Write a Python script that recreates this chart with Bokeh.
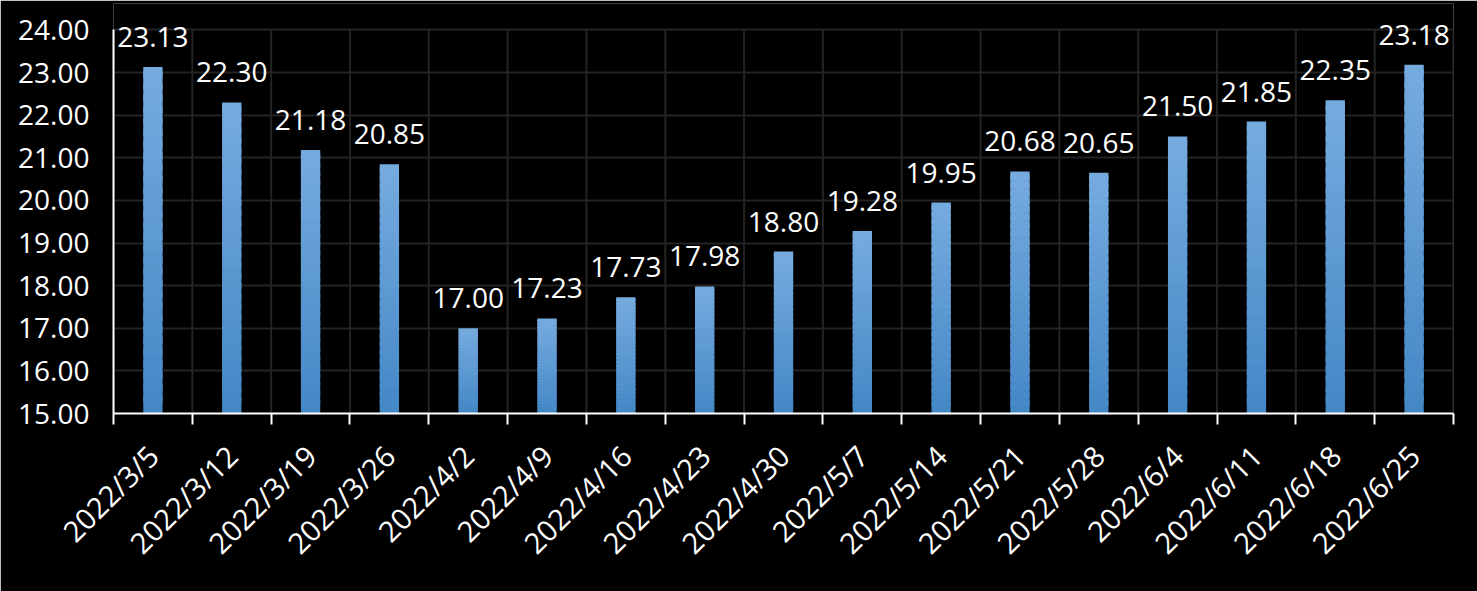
from bokeh.plotting import figure
from bokeh.models import Range1d, FixedTicker, ColumnDataSource, LabelSet, CustomJSTickFormatter
from bokeh.core.properties import value
from bokeh.embed import file_html
from bokeh.resources import INLINE
import numpy as np

dates = ["2022/3/5", "2022/3/12", "2022/3/19", "2022/3/26", "2022/4/2", "2022/4/9",
         "2022/4/16", "2022/4/23", "2022/4/30", "2022/5/7", "2022/5/14", "2022/5/21",
         "2022/5/28", "2022/6/4", "2022/6/11", "2022/6/18", "2022/6/25"]
values = [23.13, 22.30, 21.18, 20.85, 17.00, 17.23, 17.73, 17.98, 18.80, 19.28,
          19.95, 20.68, 20.65, 21.50, 21.85, 22.35, 23.18]
y_min, y_max = 15.0, 24.0
y_ticks = [15, 16, 17, 18, 19, 20, 21, 22, 23, 24]

FONT = "Open Sans"
n = len(dates)
centers = [i + 0.5 for i in range(n)]
boundaries = list(range(n + 1))
GRID = "#232323"

p = figure(width=1477, height=591, output_backend="svg", toolbar_location=None,
           x_range=Range1d(0, n), y_range=Range1d(y_min, y_max + 0.62),
           background_fill_color="black", border_fill_color="black",
           min_border_left=113, min_border_right=24, min_border_top=3, min_border_bottom=178)
p.outline_line_color = None

# vertical grid lines at category boundaries, limited to the value range
p.segment(x0=boundaries, y0=[y_min] * len(boundaries), x1=boundaries,
          y1=[y_max] * len(boundaries), line_color=GRID, line_width=2)

# gradient bars: light at top, darker at bottom, built as stacked slices
top_rgb = np.array([0x76, 0xab, 0xdf])
bot_rgb = np.array([0x44, 0x87, 0xc6])
N = 30
for k in range(N):
    f0, f1 = k / N, min(1.0, (k + 1.6) / N)
    frac = (k + 0.5) / N
    c = bot_rgb + (top_rgb - bot_rgb) * frac
    color = "#%02x%02x%02x" % tuple(int(round(v)) for v in c)
    bottoms = [y_min + (v - y_min) * f0 for v in values]
    tops = [y_min + (v - y_min) * f1 for v in values]
    p.vbar(x=centers, bottom=bottoms, top=tops, width=0.245, fill_color=color,
           line_color=None)

src = ColumnDataSource(dict(x=centers, y=values, t=["%.2f" % v for v in values]))
labels = LabelSet(x="x", y="y", text="t", source=src, text_align="center",
                  text_baseline="bottom", y_offset=20, text_color="white",
                  text_font=value(FONT), text_font_size=value("28px"), level="overlay")
p.add_layout(labels)

# x axis: labels at centres, ticks at category boundaries
xt = FixedTicker(ticks=centers, minor_ticks=boundaries)
p.xaxis.ticker = xt
p.xaxis.major_label_overrides = {c: d for c, d in zip(centers, dates)}
p.xaxis.major_label_orientation = np.pi / 4
p.xaxis.major_tick_line_color = None
p.xaxis.minor_tick_line_color = "white"
p.xaxis.minor_tick_line_width = 2
p.xaxis.minor_tick_out = 11
p.xaxis.minor_tick_in = 0
p.xaxis.axis_line_color = "white"
p.xaxis.axis_line_width = 2
p.xaxis.major_label_text_color = "white"
p.xaxis.major_label_text_font = FONT
p.xaxis.major_label_text_font_size = "29px"
p.xaxis.major_label_standoff = 26

p.yaxis.ticker = FixedTicker(ticks=y_ticks, minor_ticks=[])
p.yaxis.bounds = (y_min, y_max)
p.yaxis.formatter = CustomJSTickFormatter(code="return tick.toFixed(2);")
p.yaxis.major_tick_line_color = None
p.yaxis.minor_tick_line_color = None
p.yaxis.axis_line_color = "white"
p.yaxis.axis_line_width = 2
p.yaxis.major_label_text_color = "white"
p.yaxis.major_label_text_font = FONT
p.yaxis.major_label_text_font_size = "28px"
p.yaxis.major_label_standoff = 18

p.xgrid.grid_line_color = None
p.ygrid.grid_line_color = GRID
p.ygrid.grid_line_width = 2

open("out.html", "w").write(file_html(p, INLINE))
